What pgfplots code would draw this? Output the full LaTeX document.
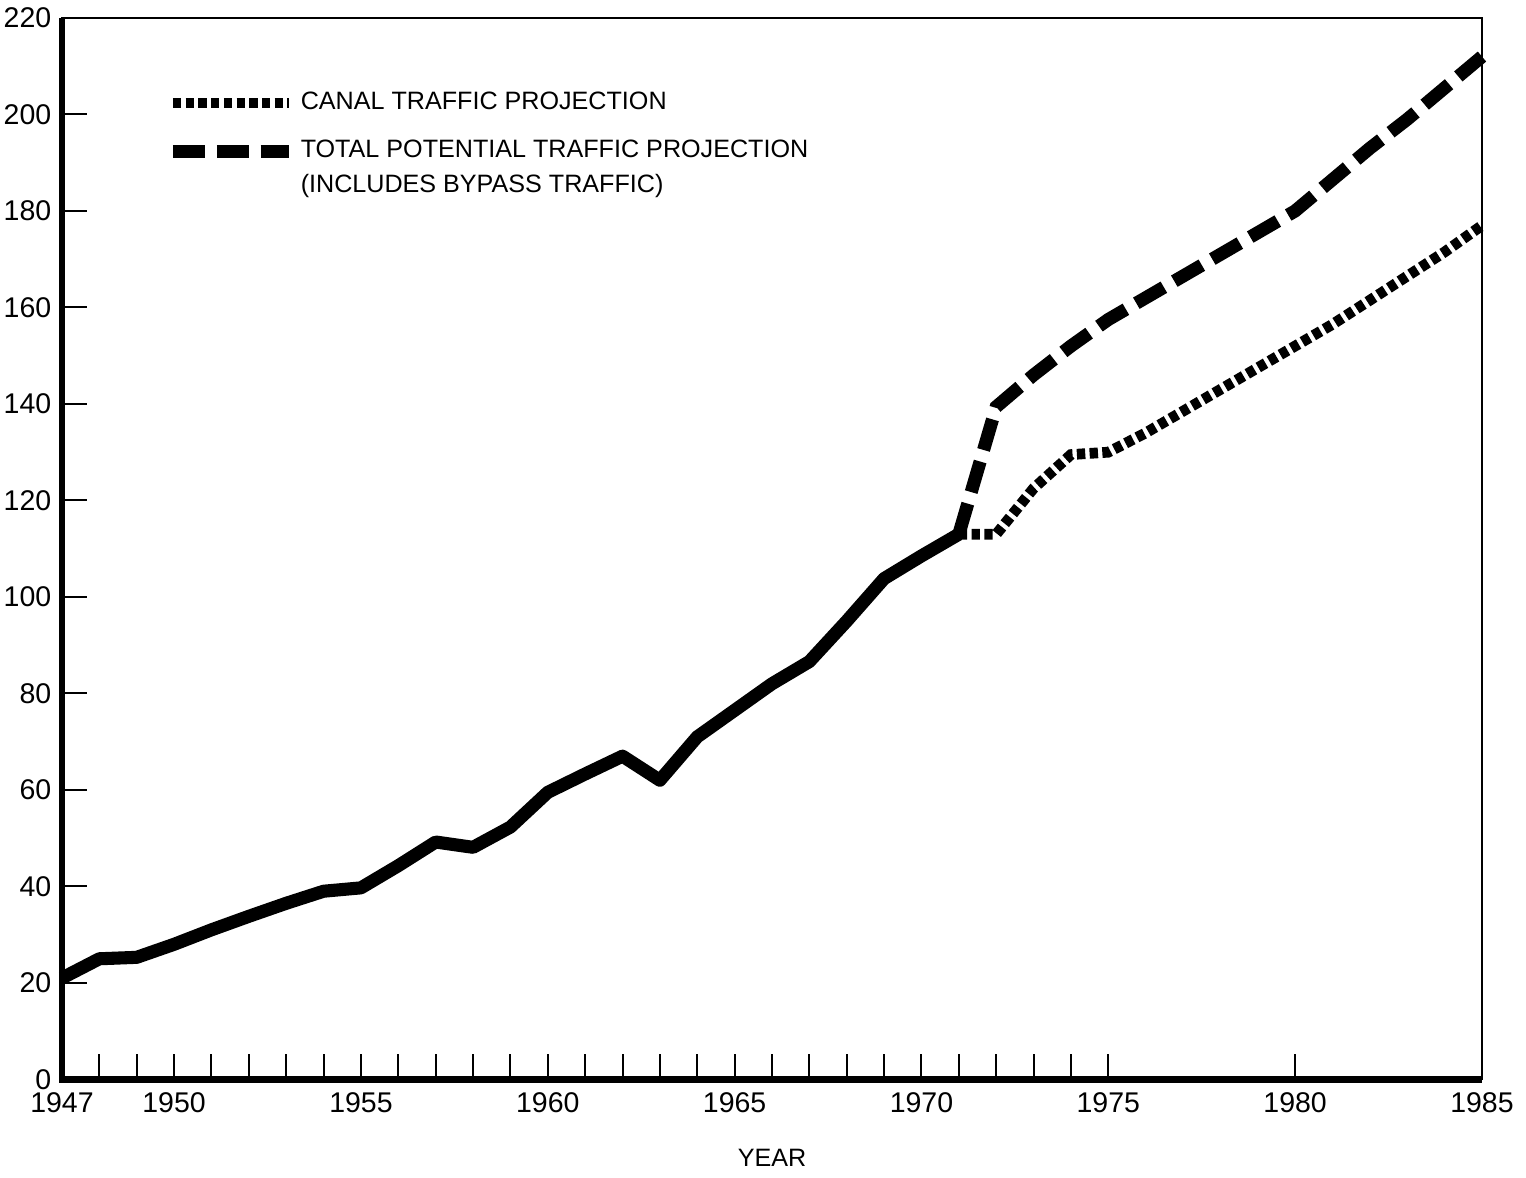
\documentclass[border=0pt]{standalone}
\usepackage{fontspec}
\setmainfont{Liberation Sans}
\usepackage{pgfplots}
\pgfplotsset{compat=1.18}
\begin{document}
\begin{tikzpicture}
\begin{axis}[
  scale only axis,
  width=14.89cm, height=11.13cm,
  xmin=1947, xmax=1985, ymin=0, ymax=220,
  clip=false,
  axis line style={line width=0.6pt},
  xtick={1947,1948,...,1975,1980,1985},
  xticklabels={1947,,,1950,,,,,1955,,,,,1960,,,,,1965,,,,,1970,,,,,1975,1980,1985},
  ytick={0,20,...,220},
  xtick pos=left, ytick pos=left,
  tick align=inside,
  major tick length=7.5pt,
  tick style={line width=0.6pt, black},
  /pgf/number format/assume math mode=true,
  tick label style={font=\fontsize{8.5}{10}\selectfont},
  xticklabel style={yshift=-0.5pt},
  yticklabel style={inner sep=0pt, xshift=-3pt},
  xlabel={YEAR},
  xlabel style={font=\fontsize{7.5}{9}\selectfont, yshift=-4pt},
  legend style={at={(rel axis cs:0.073,0.936)}, anchor=north west, draw=none, fill=none,
    font=\fontsize{7.5}{9}\selectfont, row sep=4.7pt, inner sep=0pt,
    nodes={inner sep=1.5pt, anchor=west}},
  legend cell align=left,
  legend image code/.code={\draw[#1] (0cm,0cm) -- (1.22cm,0cm);},
]
% historical (solid)
\addplot[forget plot, black, line width=3.9pt, line join=round] coordinates {
 (1947,21) (1948,25) (1949,25.3) (1950,28) (1951,31) (1952,33.8) (1953,36.5)
 (1954,39) (1955,39.7) (1956,44.3) (1957,49.2) (1958,48.1) (1959,52.3)
 (1960,59.5) (1961,63.3) (1962,67) (1963,62) (1964,71) (1965,76.5) (1966,82)
 (1967,86.6) (1968,95) (1969,103.8) (1970,108.5) (1971,113)
};
% canal traffic projection
\addplot[black, line width=3.2pt, dash pattern=on 2.5pt off 1.3pt] coordinates {
 (1971,113) (1972,113) (1973,122.5) (1974,129.5) (1975,130) (1976,134)
 (1977,138.5) (1978,143) (1979,147.5) (1980,152) (1981,156.5) (1982,161.5)
 (1983,166.5) (1984,171.5) (1985,177)
};
\addlegendentry{CANAL TRAFFIC PROJECTION}
% total potential traffic projection
\addplot[black, line width=3.9pt, dash pattern=on 9.5pt off 3.6pt] coordinates {
 (1971,113) (1972,139.4) (1973,146) (1974,152) (1975,157.5) (1976,162)
 (1977,166.5) (1978,171) (1979,175.5) (1980,180) (1981,186.5) (1982,193)
 (1983,199) (1984,205.5) (1985,212)
};
\addlegendentry{TOTAL POTENTIAL TRAFFIC PROJECTION}
\addlegendimage{empty legend}
\addlegendentry{\raisebox{4.2pt}[\height][\depth]{(INCLUDES BYPASS TRAFFIC)}}
% heavy left and bottom axis lines
\draw[line width=2pt] (rel axis cs:0,1) -- (rel axis cs:0,0) -- (rel axis cs:1,0);
% page extent matching the reference
\path (rel axis cs:-0.04366,1.01695) rectangle (rel axis cs:1.03099,-0.0838);
\end{axis}
\end{tikzpicture}
\end{document}
